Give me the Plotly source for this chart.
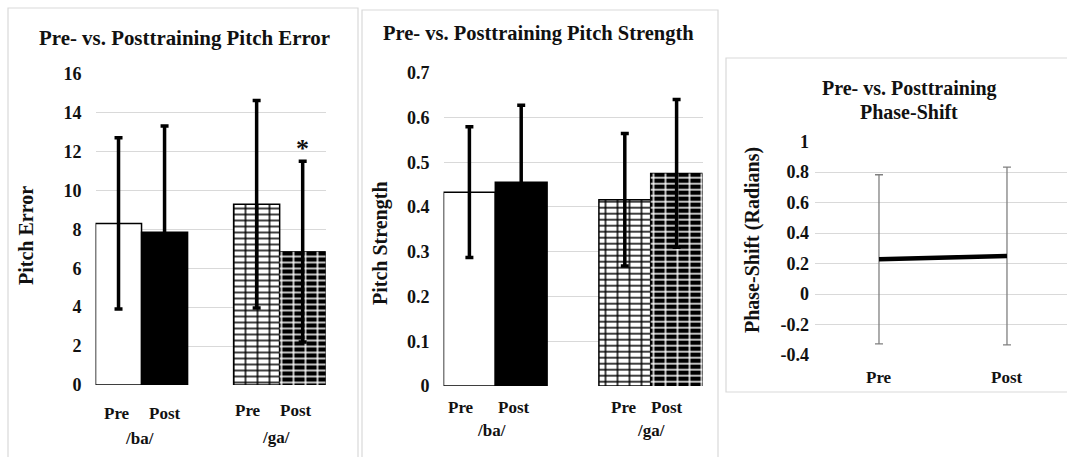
import plotly.graph_objects as go

# ---------------- data ----------------
groups = ["/ba/", "/ga/"]
conditions = ["Pre", "Post"]

pitch_error_mean = [8.3, 7.85, 9.28, 6.85]
pitch_error_sd = [4.4, 5.45, 5.33, 4.64]

pitch_strength_mean = [0.433, 0.455, 0.416, 0.475]
pitch_strength_sd = [0.146, 0.172, 0.148, 0.165]

phase_categories = ["Pre", "Post"]
phase_mean = [0.228, 0.25]
phase_sd = [0.555, 0.583]

error_ticks = [0, 2, 4, 6, 8, 10, 12, 14, 16]
strength_ticks = [0, 0.1, 0.2, 0.3, 0.4, 0.5, 0.6, 0.7]
phase_ticks = [-0.4, -0.2, 0, 0.2, 0.4, 0.6, 0.8, 1]

significant = [False, False, False, True]

# ---------------- layout helpers ----------------
W, H = 1067, 457
def fx(px):
    return px / W
def fy(py):
    return 1 - py / H

FONT = "Liberation Serif, Times New Roman, serif"
TXT = "#111111"
GRID = "#d9d9d9"
CLEAR = "rgba(0,0,0,0)"

# bar slots: Pre/Post for /ba/, blank slot, Pre/Post for /ga/
slots = []
for gi in range(len(groups)):
    for ci in range(len(conditions)):
        slots.append(gi * (len(conditions) + 1) + ci)

# fill colour, brick (mortar) colour or None
styles = [
    dict(fill="white", mortar=None),
    dict(fill="black", mortar=None),
    dict(fill="white", mortar="black"),
    dict(fill="black", mortar="white"),
]

fig = go.Figure()

def mortar_layer(color, shape, size, solidity):
    return dict(marker=dict(color=CLEAR, line=dict(width=0),
                            pattern=dict(shape=shape, size=size, solidity=solidity,
                                         fillmode="replace", bgcolor=CLEAR,
                                         fgcolor=color, fgopacity=1)))

def add_bars(means, sds, xa, ya):
    for i, (m, s) in enumerate(zip(means, sds)):
        st = styles[i]
        err = dict(type="data", array=[s], visible=True,
                   color="black", thickness=3.5, width=4)
        layers = [dict(marker=dict(color=st["fill"], line=dict(color="black", width=1.5)))]
        if st["mortar"]:
            layers.append(mortar_layer(st["mortar"], "-", 6, 0.25))
            layers.append(mortar_layer(st["mortar"], "|", 12, 0.125))
        for li, lay in enumerate(layers):
            fig.add_trace(go.Bar(
                x=[slots[i]], y=[m], width=1, marker=lay["marker"],
                error_y=err if li == len(layers) - 1 else None,
                xaxis=xa, yaxis=ya, showlegend=False, hoverinfo="skip"))

add_bars(pitch_error_mean, pitch_error_sd, "x", "y")
add_bars(pitch_strength_mean, pitch_strength_sd, "x2", "y2")

fig.add_trace(go.Scatter(
    x=list(range(len(phase_categories))), y=phase_mean, mode="lines",
    line=dict(color="black", width=4.5),
    error_y=dict(type="data", array=phase_sd, visible=True,
                 color="#808080", thickness=1.3, width=4),
    xaxis="x3", yaxis="y3", showlegend=False, hoverinfo="skip"))

tickfont = dict(family=FONT, size=18, color=TXT, weight="bold")

def yax(domain, rng, ticks, standoff):
    return dict(domain=domain, range=rng, tickvals=ticks,
                ticktext=[f"{t:g}" for t in ticks], tickfont=tickfont,
                showgrid=True, gridcolor=GRID, gridwidth=1, zeroline=False,
                showline=False, ticks="", ticklabelstandoff=standoff, fixedrange=True)

def xax(domain, rng):
    return dict(domain=domain, range=rng, showticklabels=False, showgrid=False,
                zeroline=False, showline=False, ticks="", fixedrange=True)

n_slots = len(groups) * (len(conditions) + 1) - 1
fig.update_layout(
    width=W, height=H, margin=dict(l=0, r=0, t=0, b=0, pad=0, autoexpand=False),
    paper_bgcolor="white", plot_bgcolor="white",
    barmode="overlay", showlegend=False,
    xaxis=xax([fx(95.5), fx(325.7)], [-0.5, n_slots - 0.5]),
    yaxis=yax([fy(385), fy(73.5)], [0, 16], error_ticks, 13),
    xaxis2=dict(xax([fx(443.5), fx(702.5)], [-0.5, n_slots - 0.5]), anchor="y2"),
    yaxis2=dict(yax([fy(386), fy(72.7)], [0, 0.7], strength_ticks, 13), anchor="x2"),
    xaxis3=dict(xax([fx(815), 1.0], [-0.5, 1.469]), anchor="y3"),
    yaxis3=dict(yax([fy(355), fy(141.7)], [-0.4, 1], phase_ticks, 5), anchor="x3"),
)

# panel borders
for (x0, y0, x1, y1) in [(8, 8, 358, 480), (362, 10, 718, 480), (726, 58, 1090, 392)]:
    fig.add_shape(type="rect", xref="paper", yref="paper",
                  x0=fx(x0), x1=fx(x1), y0=fy(y1), y1=fy(y0),
                  line=dict(color=GRID, width=1.2), fillcolor=CLEAR, layer="below")

def ann(text, x, y, xref="paper", size=17, angle=0, xshift=0, yanchor="middle"):
    fig.add_annotation(text=text, x=x, y=y, xref=xref, yref="paper",
                       showarrow=False, textangle=angle, xshift=xshift,
                       xanchor="center", yanchor=yanchor,
                       font=dict(family=FONT, size=size, color=TXT, weight="bold"))

# titles
ann("Pre- vs. Posttraining Pitch Error", fx(184), fy(38), size=20.9)
ann("Pre- vs. Posttraining Pitch Strength", fx(538.5), fy(33), size=20.5)
ann("Pre- vs. Posttraining", fx(909), fy(89), size=20)
ann("Phase-Shift", fx(909), fy(112), size=20)

# y-axis titles
ann("Pitch Error", fx(26), fy(236), size=20, angle=-90)
ann("Pitch Strength", fx(381), fy(243), size=20, angle=-90)
ann("Phase-Shift (Radians)", fx(753), fy(240), size=20, angle=-90)

# category labels, panel 1
p1_cond_y = [413, 410]
p1_cond_shift = [[-2, 0], [-9, -7]]
p1_group_y = [438, 437]
p1_group_shift = [-2, -4]
# panel 2
p2_cond_y = [407, 407]
p2_cond_shift = [[-8, -7], [-1, -10]]
p2_group_y = [430, 430]
p2_group_shift = [-4, 0]

for gi, g in enumerate(groups):
    for ci, c in enumerate(conditions):
        s = slots[gi * len(conditions) + ci]
        ann(c, s, fy(p1_cond_y[gi]), xref="x", xshift=p1_cond_shift[gi][ci])
        ann(c, s, fy(p2_cond_y[gi]), xref="x2", xshift=p2_cond_shift[gi][ci])
    center = (slots[gi * len(conditions)] + slots[gi * len(conditions) + len(conditions) - 1]) / 2
    ann(g, center, fy(p1_group_y[gi]), xref="x", xshift=p1_group_shift[gi])
    ann(g, center, fy(p2_group_y[gi]), xref="x2", xshift=p2_group_shift[gi])

for i, c in enumerate(phase_categories):
    ann(c, i, fy(377), xref="x3")

# significance marker
for i, sig in enumerate(significant):
    if sig:
        fig.add_annotation(text="*", x=slots[i], y=pitch_error_mean[i] + pitch_error_sd[i],
                           xref="x", yref="y", showarrow=False, yanchor="bottom", yshift=-4,
                           font=dict(family=FONT, size=26, color=TXT, weight="bold"))

fig.write_html("out.html")
